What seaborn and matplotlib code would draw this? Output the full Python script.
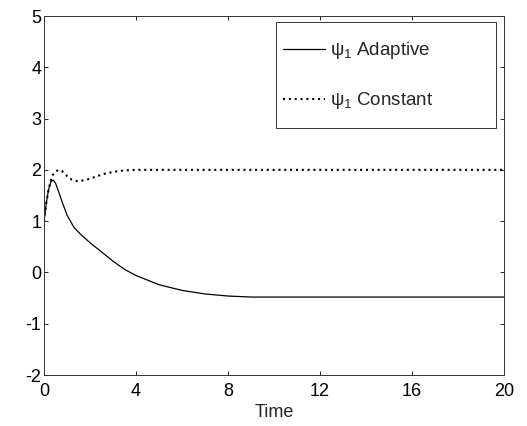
import matplotlib
matplotlib.use("Agg")
import matplotlib.pyplot as plt
from matplotlib.patches import Rectangle
import seaborn as sns
import pandas as pd

sns.set_theme(style="ticks")
plt.rcParams['font.family'] = ['Liberation Sans', 'DejaVu Sans']
plt.rcParams['mathtext.fontset'] = 'custom'
plt.rcParams['mathtext.rm'] = 'Liberation Sans'
plt.rcParams['mathtext.it'] = 'Liberation Sans'
plt.rcParams['axes.unicode_minus'] = False

# Data
t_adaptive = [0, 0.1, 0.2, 0.3, 0.4, 0.5, 0.6, 0.8, 1.0, 1.3, 1.6, 2.0, 2.5, 3.0, 3.5,
              4.0, 5.0, 6.0, 7.0, 8.0, 9.0, 10, 12, 14, 16, 18, 20]
psi_adaptive = [1.0, 1.35, 1.62, 1.77, 1.80, 1.74, 1.62, 1.36, 1.12, 0.88, 0.74, 0.58,
                0.40, 0.22, 0.06, -0.06, -0.24, -0.35, -0.42, -0.46, -0.48, -0.48,
                -0.48, -0.48, -0.48, -0.48, -0.48]

t_constant = [0, 0.1, 0.2, 0.35, 0.5, 0.65, 0.8, 1.0, 1.2, 1.45, 1.8, 2.2, 2.6, 3.0,
              3.5, 4.0, 6.0, 8.0, 10, 12, 14, 16, 18, 20]
psi_constant = [1.0, 1.35, 1.62, 1.88, 1.97, 2.00, 1.97, 1.88, 1.81, 1.78, 1.80, 1.86,
                1.92, 1.96, 1.99, 2.00, 2.00, 2.00, 2.00, 2.00, 2.00, 2.00, 2.00, 2.00]

labels = [r'$\psi_1$ Adaptive', r'$\psi_1$ Constant']
x_ticks = [0, 4, 8, 12, 16, 20]
y_ticks = [-2, -1, 0, 1, 2, 3, 4, 5]

df_a = pd.DataFrame({'Time': t_adaptive, 'psi': psi_adaptive})
df_c = pd.DataFrame({'Time': t_constant, 'psi': psi_constant})

fig = plt.figure(figsize=(5.27, 4.26), dpi=100)
ax = fig.add_axes([44/527, 51/426, 460/527, 359/426])

sns.lineplot(data=df_a, x='Time', y='psi', ax=ax, color='black', linewidth=0.9,
             label=labels[0])
sns.lineplot(data=df_c, x='Time', y='psi', ax=ax, color='black', linewidth=1.5,
             linestyle=(0, (1, 1.8)), label=labels[1])

ax.set_xlim(0, 20)
ax.set_ylim(-2, 5)
ax.set_xticks(x_ticks)
ax.set_yticks(y_ticks)
ax.set_xlabel('Time', fontsize=13, labelpad=2.5)
ax.set_ylabel('')
ax.tick_params(direction='in', length=3, width=0.6, labelsize=13,
               top=True, right=True, colors='black')
ax.tick_params(axis='x', pad=6)
ax.tick_params(axis='y', pad=2)
for s in ax.spines.values():
    s.set_visible(True)
    s.set_linewidth(0.7)
    s.set_color('#333333')

# legend frame
ax.add_patch(Rectangle((0.504, 0.688), 0.479, 0.295, transform=ax.transAxes,
                       fill=True, facecolor='white', edgecolor='#333333',
                       linewidth=0.7, zorder=4))
leg = ax.legend(loc='upper left', bbox_to_anchor=(0.5196, 0.932),
                fontsize=13.5, handlelength=2.25, handletextpad=0.27,
                labelspacing=1.55, borderpad=0, frameon=False, borderaxespad=0)
leg.set_zorder(5)

fig.savefig('out.png', dpi=100)
